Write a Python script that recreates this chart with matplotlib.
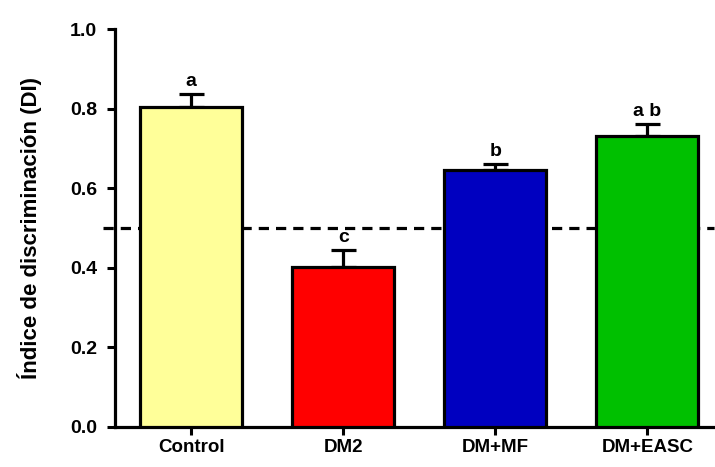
import matplotlib
matplotlib.use('Agg')
import matplotlib.pyplot as plt

groups = ['Control', 'DM2', 'DM+MF', 'DM+EASC']
means = [0.805, 0.402, 0.646, 0.731]
errors = [0.031, 0.042, 0.015, 0.030]
letters = ['a', 'c', 'b', 'a b']
colors = ['#FFFF99', '#FF0000', '#0000C0', '#00C000']
yticks = [0.0, 0.2, 0.4, 0.6, 0.8, 1.0]
chance = 0.5

plt.rcParams['font.family'] = ['Liberation Sans', 'DejaVu Sans']
plt.rcParams['font.weight'] = 'bold'

fig = plt.figure(figsize=(7.15, 4.67), dpi=100)
ax = fig.add_axes([0.161, 0.0857, 0.838, 0.852])

x = list(range(len(groups)))
ax.bar(x, means, width=0.67, color=colors, edgecolor='black', linewidth=2.3, zorder=3)
ax.errorbar(x, means, yerr=[[0] * len(errors), errors], fmt='none', ecolor='black',
            elinewidth=2.3, capsize=9, capthick=2.3, zorder=2)

# significance letters just over the caps
for xi, m, e, lab in zip(x, means, errors, letters):
    ax.annotate(lab, (xi, m + e), xytext=(0, 3), textcoords='offset points',
                ha='center', va='bottom', fontsize=14, fontweight='bold')

ax.axhline(chance, xmin=-0.02, xmax=1.0, color='black', linewidth=2.3,
           dashes=(3.2, 2.2), clip_on=False, zorder=1)

ax.set_xlim(-0.5, 3.44)
ax.set_ylim(0, 1.0)
ax.set_yticks(yticks)
ax.set_yticklabels(['%.1f' % t for t in yticks], fontsize=14, fontweight='bold')
ax.set_xticks(x)
ax.set_xticklabels(groups, fontsize=13.5, fontweight='bold')
ax.set_ylabel('Índice de discriminación (DI)', fontsize=16, fontweight='bold', labelpad=20)

for side in ['top', 'right']:
    ax.spines[side].set_visible(False)
for side in ['left', 'bottom']:
    ax.spines[side].set_linewidth(2.3)
ax.tick_params(axis='both', direction='out', length=6, width=2.2)
ax.tick_params(axis='y', pad=7)
ax.tick_params(axis='x', pad=3)

fig.savefig('out.png', dpi=100)
